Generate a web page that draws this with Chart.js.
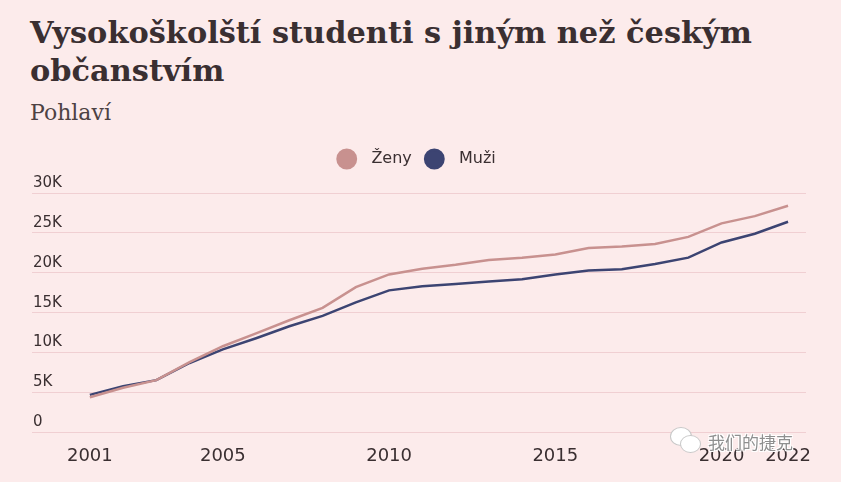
<!DOCTYPE html>
<html lang="cs">
<head>
<meta charset="utf-8">
<script src="https://cdn.jsdelivr.net/npm/chart.js@4.4.1/dist/chart.umd.min.js"></script>
<style>
    html, body { margin: 0; padding: 0; }
    body {
        width: 841px; height: 482px; overflow: hidden; position: relative;
        background: #fcebeb;
    }
    .title {
        position: absolute; left: 30px; top: 13px;
        font-family: "DejaVu Serif", serif; font-weight: bold;
        font-size: 30.4px; line-height: 38px; color: #3a2f31;
    }
    .subtitle {
        position: absolute; left: 30px; top: 100px;
        font-family: "DejaVu Serif", serif; font-size: 22px; color: #4d4243;
    }
    .chart-box { position: absolute; left: 0; top: 130px; width: 841px; height: 352px; }
    .wm {
        position: absolute; left: 708px; top: 429px;
        font-family: "Noto Sans CJK SC", sans-serif; font-size: 17px; color: #8f8f8f;
        text-shadow: -1px -1px 0 #fff, 1px -1px 0 #fff, -1px 1px 0 #fff, 1px 1px 0 #fff;
    }
    .wm-icon { position: absolute; border-radius: 50%; background: #fff; border: 1px solid #c8c8c8; }
</style>
</head>
<body>
<div class="title">Vysokoškolští studenti s jiným než českým<br>občanstvím</div>
<div class="subtitle">Pohlaví</div>
<div class="chart-box"><canvas id="chart"></canvas></div>
<div class="wm-icon" style="left:670px; top:427px; width:20px; height:17px;"></div>
<div class="wm-icon" style="left:680px; top:435px; width:19px; height:16px;"></div>
<div class="wm">我们的捷克</div>
<script>
// Данные (оценено по картинке)
const years = [2001, 2002, 2003, 2004, 2005, 2006, 2007, 2008, 2009, 2010, 2011,
               2012, 2013, 2014, 2015, 2016, 2017, 2018, 2019, 2020, 2021, 2022];
const zeny = [4400, 5600, 6550, 8800, 10800, 12400, 14050, 15600, 18200, 19800, 20500,
              21000, 21600, 21900, 22300, 23100, 23300, 23600, 24500, 26200, 27100, 28400];
const muzi = [4700, 5800, 6550, 8700, 10400, 11800, 13300, 14600, 16300, 17800, 18300,
              18600, 18900, 19200, 19800, 20300, 20450, 21100, 21900, 23800, 24900, 26400];
const xTicks = [2001, 2005, 2010, 2015, 2020, 2022];
const yTicks = [0, 5000, 10000, 15000, 20000, 25000, 30000];

const colorZeny = '#c8918f';
const colorMuzi = '#3c4472';
const textColor = '#3a2f31';

// Отступ под легендой
const legendGap = {
    id: 'legendGap',
    beforeInit(chart) {
        const fit = chart.legend.fit;
        chart.legend.fit = function () {
            fit.bind(this)();
            this.height += 16;
        };
    }
};

const ctx = document.getElementById('chart').getContext('2d');
new Chart(ctx, {
    type: 'line',
    plugins: [legendGap],
    data: {
        datasets: [
            {
                label: 'Ženy',
                data: zeny.map((v, i) => ({ x: years[i], y: v })),
                borderColor: colorZeny,
                backgroundColor: colorZeny,
                borderWidth: 2.5,
                pointRadius: 0,
                tension: 0
            },
            {
                label: 'Muži',
                data: muzi.map((v, i) => ({ x: years[i], y: v })),
                borderColor: colorMuzi,
                backgroundColor: colorMuzi,
                borderWidth: 2.5,
                pointRadius: 0,
                tension: 0
            }
        ]
    },
    options: {
        responsive: true,
        maintainAspectRatio: false,
        animation: false,
        layout: { padding: { left: 30, right: 35, top: 5, bottom: 10 } },
        plugins: {
            tooltip: { enabled: false },
            legend: {
                position: 'top',
                labels: {
                    usePointStyle: true,
                    pointStyle: 'circle',
                    boxHeight: 13,
                    boxWidth: 13,
                    color: textColor,
                    padding: 16,
                    font: { family: '"DejaVu Sans", sans-serif', size: 16 },
                    generateLabels: chart => Chart.defaults.plugins.legend.labels.generateLabels(chart)
                        .map(l => ({ ...l, text: '  ' + l.text }))
                }
            }
        },
        scales: {
            x: {
                type: 'linear',
                min: 1999.26,
                max: 2022.54,
                afterBuildTicks: axis => { axis.ticks = xTicks.map(v => ({ value: v })); },
                grid: { display: false },
                border: { display: false },
                ticks: {
                    color: textColor,
                    padding: 5,
                    maxRotation: 0,
                    autoSkip: false,
                    font: { family: '"DejaVu Sans", sans-serif', size: 18 },
                    callback: v => String(v)
                }
            },
            y: {
                min: 0,
                max: 30000,
                afterBuildTicks: axis => { axis.ticks = yTicks.map(v => ({ value: v })); },
                grid: { color: '#f0cfd2', lineWidth: 1, drawTicks: false },
                border: { display: false },
                ticks: {
                    mirror: true,
                    padding: 1,
                    labelOffset: -10,
                    color: textColor,
                    font: { family: '"DejaVu Sans", sans-serif', size: 15 },
                    callback: v => v === 0 ? '0' : (v / 1000) + 'K'
                }
            }
        }
    }
});
</script>
</body>
</html>
